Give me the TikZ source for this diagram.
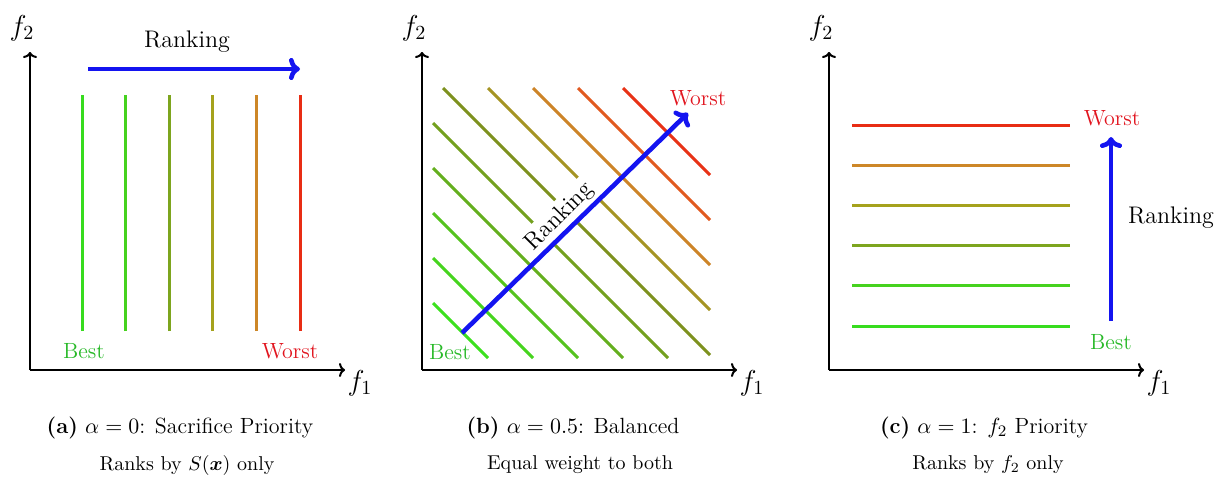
\documentclass[tikz,border=0pt]{standalone}
\usepackage{amsmath}
\usepackage{amssymb}
\usepackage{bm}
\usetikzlibrary{arrows.meta}
\usetikzlibrary{positioning}
\usetikzlibrary{calc}
\definecolor{rkblue}{RGB}{20,20,240}
\definecolor{bestgreen}{RGB}{40,185,40}
\definecolor{worstred}{RGB}{225,20,30}
% level colours, best to worst
\definecolor{lvone}{RGB}{55,220,30}
\definecolor{lvtwo}{RGB}{70,210,30}
\definecolor{lvthree}{RGB}{125,165,30}
\definecolor{lvfour}{RGB}{165,162,28}
\definecolor{lvfive}{RGB}{205,135,40}
\definecolor{lvsix}{RGB}{232,45,20}
% ten level colours for the balanced panel
\definecolor{bl1}{RGB}{60,225,30}
\definecolor{bl2}{RGB}{70,212,30}
\definecolor{bl3}{RGB}{85,195,30}
\definecolor{bl4}{RGB}{100,175,30}
\definecolor{bl5}{RGB}{115,160,30}
\definecolor{bl6}{RGB}{125,145,30}
\definecolor{bl7}{RGB}{165,148,35}
\definecolor{bl8}{RGB}{205,132,40}
\definecolor{bl9}{RGB}{225,90,32}
\definecolor{bl10}{RGB}{232,50,22}

\begin{document}
\begin{tikzpicture}[x=0.5pt, y=0.5pt,
    axis/.style={line width=1pt, -{To[length=3pt, width=7pt]}},
    level/.style={line width=1.5pt},
    rank/.style={rkblue, line width=2.3pt, -{To[length=5.5pt, width=11pt]}},
    lbl/.style={inner sep=0pt, font=\large},
    best/.style={inner sep=0pt, font=\fontsize{11}{13}\selectfont, text=bestgreen},
    worst/.style={inner sep=0pt, font=\fontsize{11}{13}\selectfont, text=worstred},
    captext/.style={inner sep=0pt, font=\fontsize{11}{13}\selectfont},
    subtext/.style={inner sep=0pt, font=\fontsize{10}{12}\selectfont}]
      \useasboundingbox (0,0) rectangle (1220,479);
      % Axes of the three panels
      \foreach \p/\ox in {a/30, b/422, c/829} {
        \coordinate (o\p) at (\ox,109);
        \coordinate (y\p) at (\ox,427);
        \coordinate (x\p) at (\ox+315,109);
        \draw[axis] (o\p) -- (y\p);
        \draw[axis] (o\p) -- (x\p);
        \node[lbl, font=\Large] (ftwo\p) at (\ox-8,451) {$f_2$};
        \node[lbl, font=\Large] (fone\p) at (\ox+330,96) {$f_1$};
      }
      % Panel (a): vertical level lines
      \foreach \i/\c in {1/lvone, 2/lvtwo, 3/lvthree, 4/lvfour, 5/lvfive, 6/lvsix} {
        \coordinate (at\i) at ({82+43.6*(\i-1)},384);
        \coordinate (ab\i) at ({82+43.6*(\i-1)},148);
        \draw[level, \c] (ab\i) -- (at\i);
      }
      \coordinate (ra1) at (88,410);
      \coordinate (ra2) at (300,410);
      \draw[rank] (ra1) -- (ra2);
      \node[lbl] (rka) at (187,437) {Ranking};
      \node[best] (besta) at (84,128) {Best};
      \node[worst] (worsta) at (290,128) {Worst};
      % Panel (b): diagonal level lines f1 + f2 = k
      \foreach \j in {1,...,10} {
        \pgfmathsetmacro\k{78+45*(\j-1)}
        \pgfmathsetmacro\ua{max(11,\k-282)}
        \pgfmathsetmacro\ub{min(288,\k-12)}
        \coordinate (bs\j) at ($(ob)+(\ua,\k-\ua)$);
        \coordinate (be\j) at ($(ob)+(\ub,\k-\ub)$);
        \draw[level, bl\j] (bs\j) -- (be\j);
      }
      \coordinate (rb1) at (462,146);
      \coordinate (rb2) at (688,366);
      \node[lbl, rotate=45, anchor=south, fill=white, inner sep=2pt] (rkb) at ($(rb1)!0.48!(rb2)$) {Ranking};
      \draw[rank] (rb1) -- (rb2);
      \node[best] (bestb) at (450,127) {Best};
      \node[worst] (worstb) at (698,381) {Worst};
      % Panel (c): horizontal level lines
      \foreach \i/\c in {1/lvone, 2/lvtwo, 3/lvthree, 4/lvfour, 5/lvfive, 6/lvsix} {
        \coordinate (cl\i) at (852,{153+40.2*(\i-1)});
        \coordinate (cr\i) at (1070,{153+40.2*(\i-1)});
        \draw[level, \c] (cl\i) -- (cr\i);
      }
      \coordinate (rc1) at (1111,158);
      \coordinate (rc2) at (1111,342);
      \draw[rank] (rc1) -- (rc2);
      \node[lbl] (rkc) at (1171,261) {Ranking};
      \node[best] (bestc) at (1111,137) {Best};
      \node[worst] (worstc) at (1112,361) {Worst};
      % Captions
      \node[captext] (capa) at (180,51) {\textbf{(a)} $\alpha=0$: Sacrifice Priority};
      \node[subtext] (suba) at (187,14) {Ranks by $S(\bm{x})$ only};
      \node[captext] (capb) at (573,51) {\textbf{(b)} $\alpha=0.5$: Balanced};
      \node[subtext] (subb) at (580,14) {Equal weight to both};
      \node[captext] (capc) at (984,51) {\textbf{(c)} $\alpha=1$: $f_2$ Priority};
      \node[subtext] (subc) at (988,14) {Ranks by $f_2$ only};
    \end{tikzpicture}
\end{document}
